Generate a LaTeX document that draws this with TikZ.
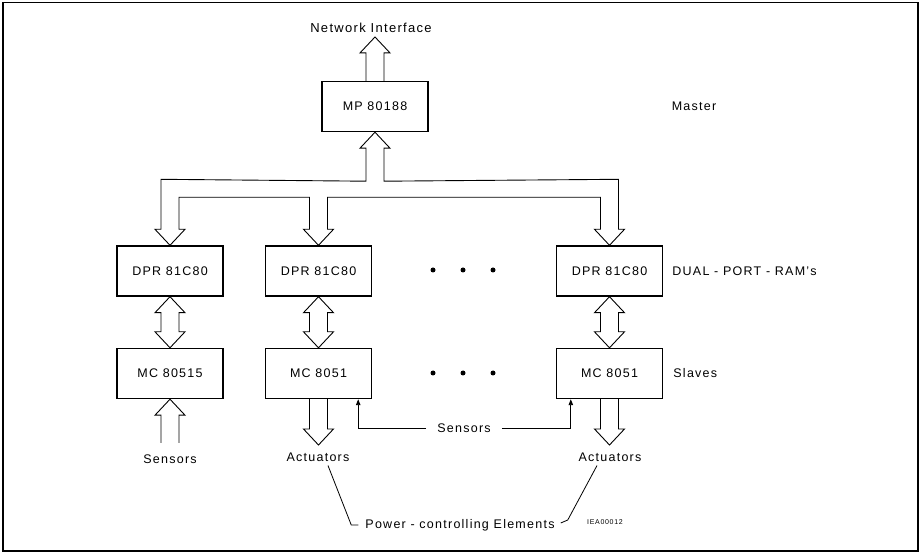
\documentclass[tikz,border=0pt]{standalone}
\usepackage{fontspec}
\setmainfont{Liberation Sans}[LetterSpace=10]
\usetikzlibrary{calc,arrows.meta}

\tikzset{
  unit/.style={draw, line width=1.4pt, minimum width=106pt, minimum height=50pt, inner sep=0pt, font=\fontsize{12.5}{14}\selectfont},
  lbl/.style={inner sep=2pt, font=\fontsize{12.5}{14}\selectfont},
  bus/.style={line width=0.9pt, line join=miter},
  sig/.style={line width=0.9pt, -{Triangle[length=6pt,width=4.5pt]}},
  dotmark/.style={circle, fill, inner sep=0pt, minimum size=5pt}
}

% hollow bus arrow from tail #1 to tip #2 (vertical)
\newcommand{\fatarrow}[2]{%
  \draw[bus] let \p1=(#1), \p2=(#2), \p3=($(#2)!16pt!(#1)$) in
    (\x1-9pt,\y1) -- (\x1-9pt,\y3) -- (\x1-15pt,\y3) -- (\x1,\y2)
    -- (\x1+15pt,\y3) -- (\x1+9pt,\y3) -- (\x1+9pt,\y1);}

% hollow bus arrow with a head at each end
\newcommand{\dualarrow}[2]{%
  \draw[bus] let \p1=(#1), \p2=(#2), \p3=($(#1)!16pt!(#2)$), \p4=($(#2)!16pt!(#1)$) in
    (\x1,\y1) -- (\x1+15pt,\y3) -- (\x1+9pt,\y3) -- (\x1+9pt,\y4) -- (\x1+15pt,\y4)
    -- (\x1,\y2) -- (\x1-15pt,\y4) -- (\x1-9pt,\y4) -- (\x1-9pt,\y3) -- (\x1-15pt,\y3) -- cycle;}

\begin{document}
\begin{tikzpicture}[x=1pt, y=-1pt]

    % Fix the page size and draw the frame
    \useasboundingbox (0,0) rectangle (922,553);
    \draw[line width=1.2pt] (3,2.5) rectangle (918,551);

    % Draw the master
    \node (mp) [unit] at (375,106.5) {MP 80188};
    \node (net) [lbl, anchor=south, font=\fontsize{13}{15}\selectfont] at (371,35) {Network Interface};
    \node (master) [lbl] at (694,106) {Master};

    % Draw the dual-port RAMs
    \node (dpr1) [unit] at (170,271) {DPR 81C80};
    \node (dpr2) [unit] at (318.5,271) {DPR 81C80};
    \node (dpr3) [unit] at (609.5,271) {DPR 81C80};
    \node (ram) [lbl, anchor=west] at ($(dpr3.east)+(7,0)$) {DUAL - PORT - RAM's};

    % Draw the slaves
    \node (mc1) [unit] at (170,373.5) {MC 80515};
    \node (mc2) [unit] at (318.5,373.5) {MC 8051};
    \node (mc3) [unit] at (609.5,373.5) {MC 8051};
    \node (slaves) [lbl, anchor=west] at ($(mc3.east)+(8,0)$) {Slaves};

    % Draw the dots
    \foreach \x in {433,463,493} {
        \node (dtop\x) [dotmark] at (\x,270) {};
        \node (dbot\x) [dotmark] at (\x,373) {};
    }

    % Draw the outer labels
    \node (sen1) [lbl] at (170,459) {Sensors};
    \node (sen2) [lbl, inner xsep=11pt] at (464,428) {Sensors};
    \node (act2) [lbl] at (318,457) {Actuators};
    \node (act3) [lbl] at (610,457) {Actuators};
    \node (pwr) [lbl] at (460,525) {Power - controlling Elements};
    \node (code) [inner sep=1pt, font=\fontsize{7}{8}\selectfont] at (605,522) {IEA00012};

    % Free ends of the bus arrows
    \coordinate (nettip) at ($(net.south)+(0,2)$);
    \coordinate (sen1top) at (170,443);
    \coordinate (act2tip) at (318.5,445);
    \coordinate (act3tip) at (609.5,445);

    % Draw the bus between master and dual-port RAMs
    \draw[bus] ($(dpr1.north)+(-9,-16)$) -- ($(dpr1.north)+(-9,-66)$)
        -- ($(mp.south)+(-9,49)$) -- ++(0,-33) -- ++(-6,0) -- (mp.south)
        -- ++(15,16) -- ++(-6,0) -- ++(0,33)
        -- ($(dpr3.north)+(9,-66)$) -- ++(0,50) -- ++(6,0) -- (dpr3.north)
        -- ++(-15,-16) -- ++(6,0) -- ++(0,-32)
        -- ($(dpr2.north)+(9,-48)$) -- ++(0,32) -- ++(6,0) -- (dpr2.north)
        -- ++(-15,-16) -- ++(6,0) -- ++(0,-32)
        -- ($(dpr1.north)+(9,-48)$) -- ++(0,32) -- ++(6,0) -- (dpr1.north)
        -- ++(-15,-16) -- cycle;

    % Draw the other bus arrows
    \fatarrow{mp.north}{nettip}
    \dualarrow{dpr1.south}{mc1.north}
    \dualarrow{dpr2.south}{mc2.north}
    \dualarrow{dpr3.south}{mc3.north}
    \fatarrow{sen1top}{mc1.south}
    \fatarrow{mc2.south}{act2tip}
    \fatarrow{mc3.south}{act3tip}

    % Draw the sensor lines
    \draw[sig] (sen2.west) -| ($(mc2.south east)+(-14,0)$);
    \draw[sig] (sen2.east) -| ($(mc3.south west)+(15,0)$);

    % Draw the power-controlling lines
    \draw[line width=0.8pt] ($(act2.south)+(10,2)$) -- ($(pwr.west)+(-12,0)$) -- ($(pwr.west)+(-5,0)$);
    \draw[line width=0.8pt] ($(act3.south)+(-13,2)$) -- ($(pwr.east)+(11,-5)$) -- ($(pwr.east)+(4,-2)$);

\end{tikzpicture}
\end{document}
